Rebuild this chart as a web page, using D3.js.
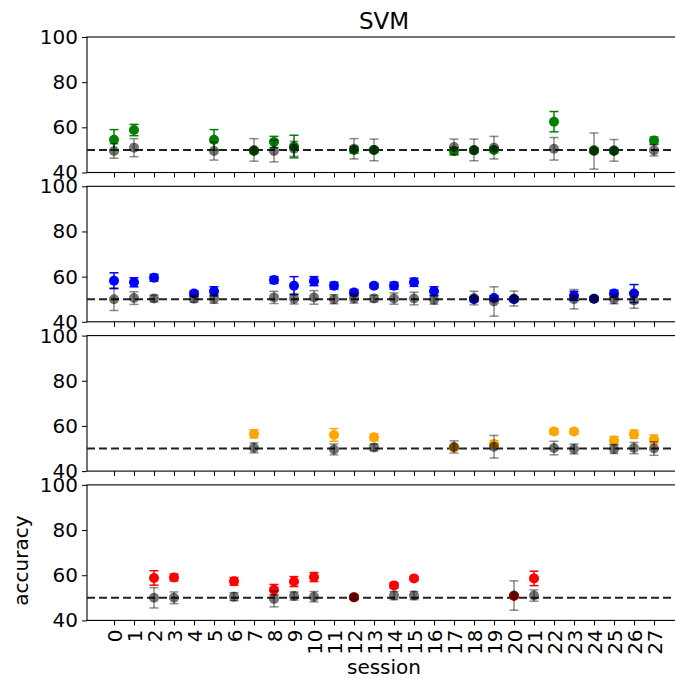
<!DOCTYPE html>
<html>
<head>
<meta charset="utf-8">
<script src="https://cdn.jsdelivr.net/npm/d3@7"></script>
<style>
  body { margin: 0; background: #fff; }
  text { font-family: "DejaVu Sans", sans-serif; }
</style>
</head>
<body>
<div id="chart"></div>
<script>
// sessions shown on the x axis
const sessions = d3.range(0, 28);
const yTicks = [40, 60, 80, 100];
const chanceLevel = 50;

// panel 1 (green)
const s1 = [0, 1, 5, 7, 8, 9, 12, 13, 17, 18, 19, 22, 24, 25, 27];
const acc1 = [54.5, 58.8, 54.5, 49.5, 53.5, 51.5, 50, 50, 49.5, 49.8, 50, 62.5, 49.8, 49.5, 54.2];
const err1 = [4.5, 2.5, 4.5, 1, 2.5, 5, 1.5, 1, 1.5, 1, 1, 4.5, 1, 1, 1.5];
const chance1 = [49.5, 51, 49.5, 50, 49.5, 50.5, 50.5, 50, 51.3, 50, 51, 50.5, 49.5, 49.8, 49.8];
const chErr1 = [3.2, 4, 4, 5, 4.8, 3.3, 4.5, 4.8, 3.5, 4.8, 5, 5, 8, 4.8, 2.5];

// panel 2 (blue)
const s2 = [0, 1, 2, 4, 5, 8, 9, 10, 11, 12, 13, 14, 15, 16, 18, 19, 20, 23, 24, 25, 26];
const acc2 = [58.2, 57.5, 59.5, 52.5, 53.5, 58.5, 56, 58, 56, 53, 56, 56, 57.5, 53.5, 50, 50.5, 50, 51.5, 50.2, 52.5, 52.5];
const err2 = [3.5, 2, 1.5, 1.2, 2, 1.5, 4, 2, 1.5, 1.3, 1, 1.5, 1.8, 2, 1, 1, 1, 2, 0.8, 1.5, 4];
const chance2 = [50, 50.5, 50.3, 50.2, 50.2, 50.8, 50.2, 50.8, 50, 50.3, 50.3, 50.3, 50.3, 49.8, 50.5, 49, 50.3, 50, 50.2, 50, 49.5];
const chErr2 = [5, 2.8, 1.5, 1.5, 2, 2.7, 2.3, 3, 2, 2, 1.5, 2.5, 2.8, 2, 3, 6.5, 3.3, 4.3, 1, 2, 3.5];

// panel 3 (orange)
const s3 = [7, 11, 13, 17, 19, 22, 23, 25, 26, 27];
const acc3 = [56.5, 56, 55, 50.5, 52, 57.5, 57.5, 53.5, 56.3, 54];
const err3 = [1.8, 2.8, 1.5, 1, 1.5, 1.3, 1.2, 1.8, 1.8, 2];
const chance3 = [50.3, 49.6, 50.5, 50.7, 50.8, 50.2, 49.8, 49.8, 50.2, 50];
const chErr3 = [2.2, 2.4, 1.5, 2.7, 5, 3, 2.2, 2, 2.5, 3];

// panel 4 (red)
const s4 = [2, 3, 6, 8, 9, 10, 12, 14, 15, 20, 21];
const acc4 = [58.8, 59, 57.3, 53.6, 57.2, 59.2, 50.2, 55.5, 58.6, 50.8, 58.6];
const err4 = [3.2, 1.5, 1.7, 2.3, 2.2, 2, 0.6, 1.2, 0.8, 0.8, 3.2];
const chance4 = [50, 50, 50.5, 49.5, 50.8, 50.5, 50.3, 51, 51, 51, 51];
const chErr4 = [4.5, 2.6, 1.8, 3.5, 1.8, 2.3, 1, 1.8, 1.8, 6.5, 2.5];

const panelColors = ["green", "blue", "orange", "red"];

// build panel tables from the arrays above
function rows(s, acc, err, ch, chErr) {
    return s.map((d, i) => ({session: d, acc: acc[i], err: err[i], chance: ch[i], chErr: chErr[i]}));
}
const panels = [
    rows(s1, acc1, err1, chance1, chErr1),
    rows(s2, acc2, err2, chance2, chErr2),
    rows(s3, acc3, err3, chance3, chErr3),
    rows(s4, acc4, err4, chance4, chErr4)
];

const width = 675, height = 679;
const left = 87, right = 681;
const top0 = 37, panelH = 135.5, step = 149.3;
const fs = 20;

const svg = d3.select("#chart").append("svg")
    .attr("width", width)
    .attr("height", height);

const x = d3.scaleLinear()
    .domain([-1.35, 28.35])
    .range([left, right]);

const capW = 4.5, r = 5;

panels.forEach((data, p) => {
    let top = top0 + p * step;
    let y = d3.scaleLinear()
        .domain([40, 100])
        .range([top + panelH, top]);

    let g = svg.append("g");

    // frame
    g.append("rect")
        .attr("x", left).attr("y", top)
        .attr("width", right - left).attr("height", panelH)
        .attr("fill", "none").attr("stroke", "#000").attr("stroke-width", 1.1);

    // y axis
    let yAxis = d3.axisLeft(y).tickValues(yTicks).tickSize(5).tickPadding(4);
    let ya = g.append("g")
        .attr("transform", "translate(" + left + ",0)")
        .call(yAxis);
    ya.select(".domain").remove();
    ya.selectAll("text").style("font-size", fs + "px").attr("fill", "#000")
        .style("font-family", "DejaVu Sans");

    // x axis
    let xAxis = d3.axisBottom(x).tickValues(sessions).tickSize(5).tickPadding(4);
    let xa = g.append("g")
        .attr("transform", "translate(0," + (top + panelH) + ")")
        .call(xAxis);
    xa.select(".domain").remove();
    if (p < 3) {
        xa.selectAll("text").remove();
    } else {
        xa.selectAll("text")
            .style("font-size", fs + "px")
            .style("font-family", "DejaVu Sans")
            .attr("fill", "#000")
            .attr("text-anchor", "end")
            .attr("transform", "rotate(-90)")
            .attr("x", -9)
            .attr("y", 0)
            .attr("dy", "0.35em");
    }

    // chance line
    g.append("line")
        .attr("x1", left).attr("x2", right)
        .attr("y1", y(chanceLevel)).attr("y2", y(chanceLevel))
        .attr("stroke", "#222").attr("stroke-width", 2)
        .attr("stroke-dasharray", "8,4");

    // decoder accuracy with error bars
    let col = panelColors[p];
    let acc = g.append("g");
    data.forEach(d => {
        let cx = x(d.session);
        acc.append("line")
            .attr("x1", cx).attr("x2", cx)
            .attr("y1", y(d.acc - d.err)).attr("y2", y(d.acc + d.err))
            .attr("stroke", col).attr("stroke-width", 1.5);
        [d.acc - d.err, d.acc + d.err].forEach(v => {
            acc.append("line")
                .attr("x1", cx - capW).attr("x2", cx + capW)
                .attr("y1", y(v)).attr("y2", y(v))
                .attr("stroke", col).attr("stroke-width", 1.5);
        });
        acc.append("circle")
            .attr("cx", cx).attr("cy", y(d.acc)).attr("r", r)
            .attr("fill", col);
    });

    // shuffled / chance estimate, drawn on top with transparency
    let ch = g.append("g");
    data.forEach(d => {
        let cx = x(d.session);
        ch.append("line")
            .attr("x1", cx).attr("x2", cx)
            .attr("y1", y(d.chance - d.chErr)).attr("y2", y(d.chance + d.chErr))
            .attr("stroke", "#000").attr("stroke-opacity", 0.45).attr("stroke-width", 1.5);
        [d.chance - d.chErr, d.chance + d.chErr].forEach(v => {
            ch.append("line")
                .attr("x1", cx - capW).attr("x2", cx + capW)
                .attr("y1", y(v)).attr("y2", y(v))
                .attr("stroke", "#000").attr("stroke-opacity", 0.45).attr("stroke-width", 1.5);
        });
        ch.append("circle")
            .attr("cx", cx).attr("cy", y(d.chance)).attr("r", r)
            .attr("fill", "#000").attr("fill-opacity", 0.55);
    });
});

// labels
svg.append("text")
    .attr("x", (left + right) / 2).attr("y", 29)
    .attr("text-anchor", "middle")
    .style("font-size", "23px")
    .text("SVM");

svg.append("text")
    .attr("x", (left + right) / 2).attr("y", 674)
    .attr("text-anchor", "middle")
    .style("font-size", fs + "px")
    .text("session");

svg.append("text")
    .attr("transform", "translate(28," + (top0 + 3 * step + panelH / 2 + 8) + ") rotate(-90)")
    .attr("text-anchor", "middle")
    .style("font-size", fs + "px")
    .text("accuracy");
</script>
</body>
</html>
